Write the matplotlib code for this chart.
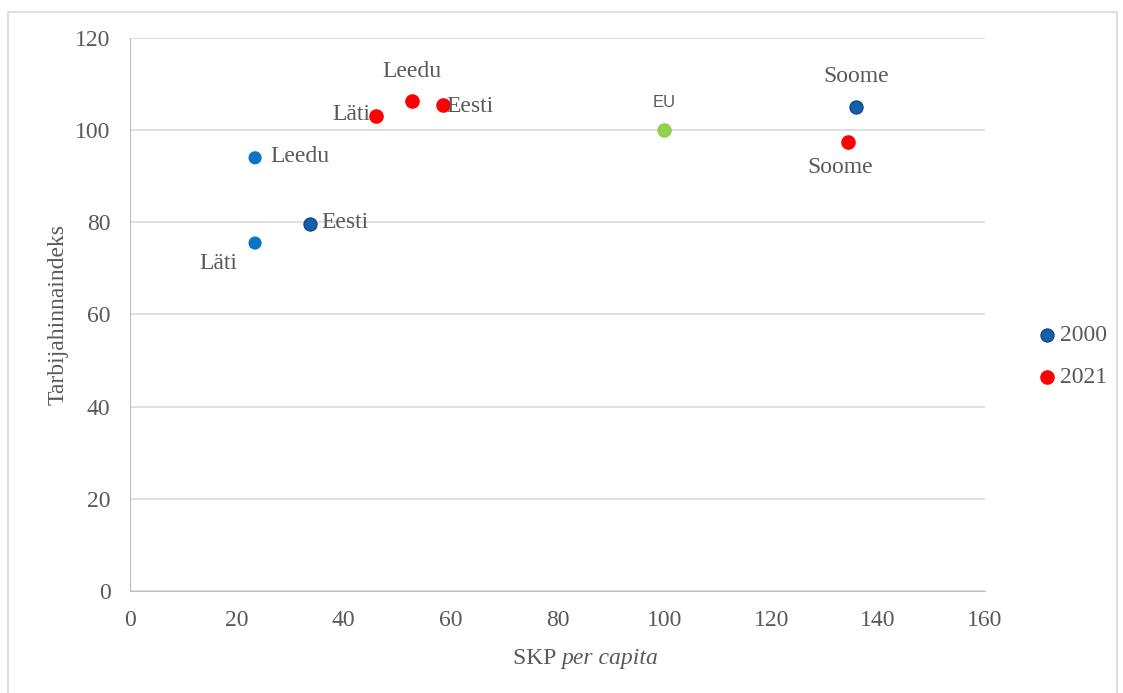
import matplotlib
matplotlib.use('Agg')
import matplotlib.pyplot as plt
from matplotlib.patches import Rectangle

# SKP per capita (EU = 100) and price index per country
countries = ['Läti', 'Leedu', 'Eesti', 'Soome']
gdp_2000 = [23.4, 23.4, 33.7, 135.9]
cpi_2000 = [75.5, 94.0, 79.6, 105.0]
gdp_2021 = [46.0, 52.8, 58.6, 134.4]
cpi_2021 = [103.1, 106.3, 105.5, 97.4]
eu_gdp = [100]
eu_cpi = [100]

C2000 = '#1560AC'
C2000_LIGHT = '#0A74C6'
C2021 = '#FF0000'
CEU = '#92D050'
TXT = '#595959'
SERIF = 'Liberation Serif'
FS = 17
MS = 90

fig = plt.figure(figsize=(11.23, 6.93), dpi=100)
ax = fig.add_axes([0.1158, 0.1472, 0.7612, 0.798])

# outer chart frame
fig.patches.append(Rectangle((0.007, -0.01), 0.988, 0.993, transform=fig.transFigure,
                             fill=False, edgecolor='#D9D9D9', linewidth=1.2))

pt_colors_2000 = [C2000_LIGHT, C2000_LIGHT, C2000, C2000]
edge_2000 = ['none', 'none', '#0D3F73', '#0D3F73']
for x, y, c, e in zip(gdp_2000, cpi_2000, pt_colors_2000, edge_2000):
    ax.scatter(x, y, s=MS, color=c, edgecolors=e, linewidths=0.8, zorder=3)
ax.scatter(gdp_2021, cpi_2021, s=MS, color=C2021, zorder=3)
ax.scatter(eu_gdp, eu_cpi, s=MS, color=CEU, zorder=3)

# legend entries (built as proxies)
h1 = ax.scatter([], [], s=MS, color=C2000, edgecolors='#0D3F73', linewidths=0.8)
h2 = ax.scatter([], [], s=MS, color=C2021)
leg = fig.legend([h1, h2], ['2000', '2021'], loc='center left',
                 bbox_to_anchor=(0.924, 0.486), frameon=False, borderpad=0,
                 borderaxespad=0, handlelength=0.8, handletextpad=0.15,
                 labelspacing=0.85, prop={'family': SERIF, 'size': FS})
for t in leg.get_texts():
    t.set_color(TXT)

lab = dict(family=SERIF, fontsize=FS, color=TXT, textcoords='offset points', va='center')
# 2000 labels
ax.annotate(countries[0], (gdp_2000[0], cpi_2000[0]), xytext=(-13, -15), ha='right', **lab)
ax.annotate(countries[1], (gdp_2000[1], cpi_2000[1]), xytext=(11, 1), ha='left', **lab)
ax.annotate(countries[2], (gdp_2000[2], cpi_2000[2]), xytext=(8, 1), ha='left', **lab)
ax.annotate(countries[3], (gdp_2000[3], cpi_2000[3]), xytext=(0, 22), ha='center', **lab)
# 2021 labels
ax.annotate(countries[0], (gdp_2021[0], cpi_2021[0]), xytext=(-4, 1), ha='right', **lab)
ax.annotate(countries[1], (gdp_2021[1], cpi_2021[1]), xytext=(0, 21), ha='center', **lab)
ax.annotate(countries[2], (gdp_2021[2], cpi_2021[2]), xytext=(2, -1), ha='left', **lab)
ax.annotate(countries[3], (gdp_2021[3], cpi_2021[3]), xytext=(-6, -18), ha='center', **lab)
ax.annotate('EU', (eu_gdp[0], eu_cpi[0]), xytext=(0, 20), textcoords='offset points',
            ha='center', va='center', family='Liberation Sans', fontsize=12, color=TXT)

ax.set_xlim(0, 160)
ax.set_ylim(0, 120)
ax.set_xticks(range(0, 161, 20))
ax.set_yticks(range(0, 121, 20))
ax.grid(axis='y', color='#D9D9D9', linewidth=1.2)
ax.set_axisbelow(True)
for s in ['top', 'right']:
    ax.spines[s].set_visible(False)
ax.spines['left'].set_color('#BFBFBF')
ax.spines['bottom'].set_color('#BFBFBF')
ax.tick_params(length=0, labelsize=FS, labelcolor=TXT)
ax.tick_params(axis='y', pad=14)
ax.tick_params(axis='x', pad=14)
for t in ax.get_xticklabels() + ax.get_yticklabels():
    t.set_family(SERIF)

ax.set_ylabel('Tarbijahinnaindeks', family=SERIF, fontsize=FS, color=TXT, labelpad=5)
fig.text(0.5, 0.05, 'SKP ', ha='right', va='center', family=SERIF, fontsize=FS, color=TXT)
fig.text(0.5, 0.05, 'per capita', ha='left', va='center', family=SERIF,
         style='italic', fontsize=FS, color=TXT)

fig.savefig('out.png', dpi=100)
